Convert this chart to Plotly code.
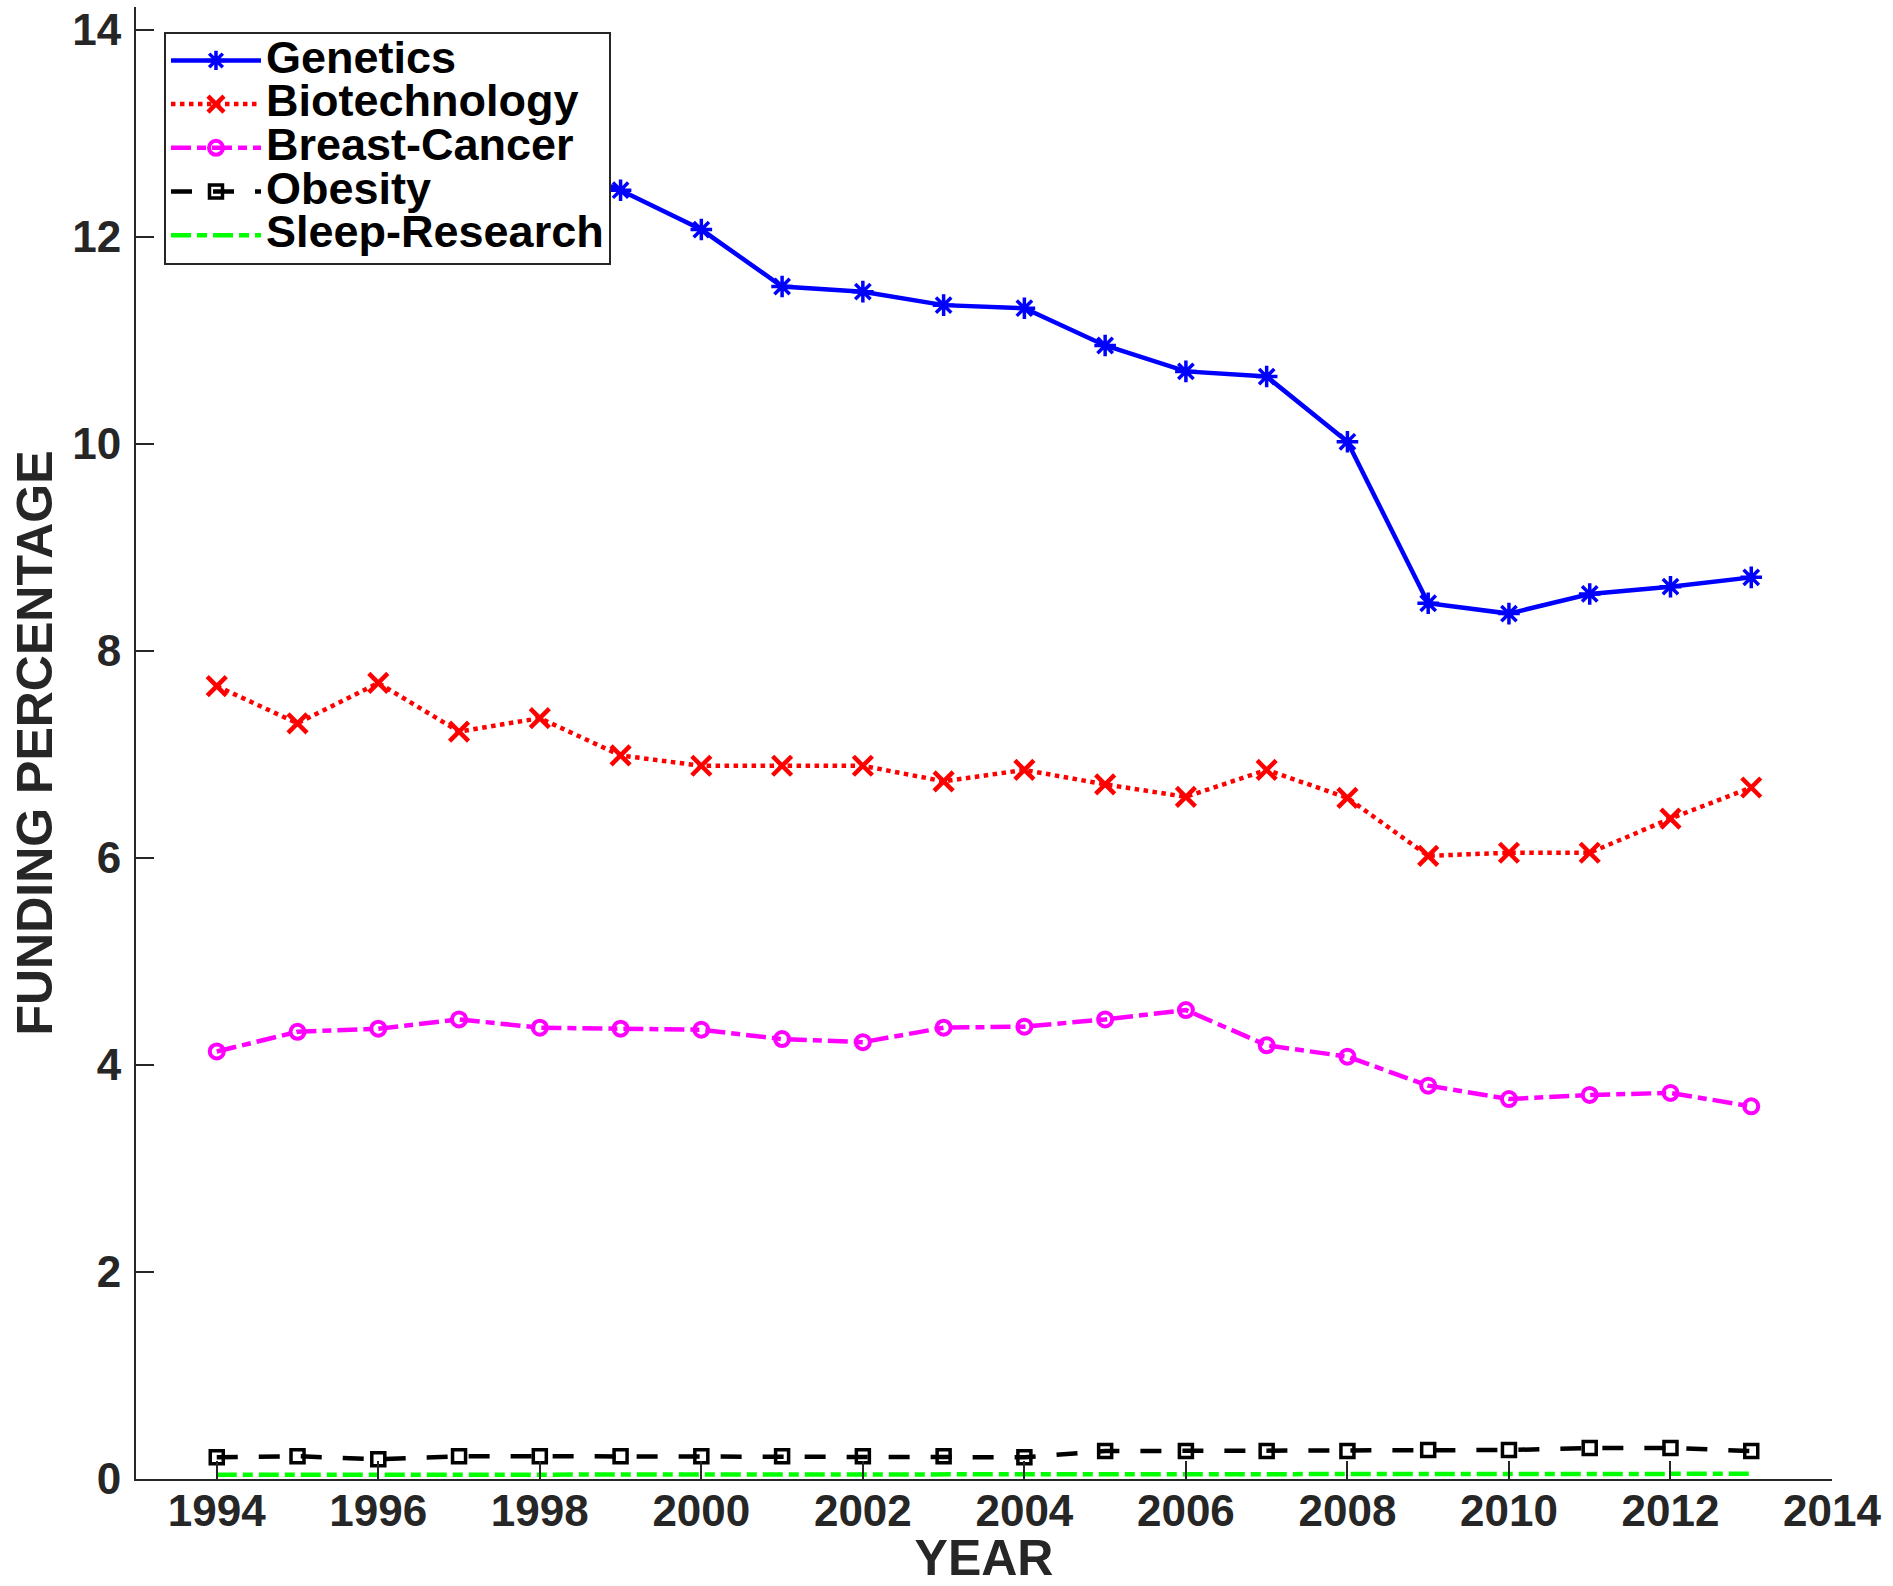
import plotly.graph_objects as go

# Share of funding per research topic, by year
years = [1994, 1995, 1996, 1997, 1998, 1999, 2000, 2001, 2002, 2003,
         2004, 2005, 2006, 2007, 2008, 2009, 2010, 2011, 2012, 2013]

genetics = [13.05, 13.25, 13.00, 12.85, 12.75, 12.45, 12.07, 11.52, 11.47, 11.34,
            11.31, 10.95, 10.70, 10.65, 10.02, 8.46, 8.36, 8.55, 8.62, 8.71]
biotechnology = [7.66, 7.30, 7.69, 7.22, 7.35, 6.99, 6.89, 6.89, 6.89, 6.74,
                 6.85, 6.71, 6.59, 6.85, 6.58, 6.02, 6.05, 6.05, 6.38, 6.68]
breast_cancer = [4.13, 4.32, 4.35, 4.44, 4.36, 4.35, 4.34, 4.25, 4.22, 4.36,
                 4.37, 4.44, 4.53, 4.19, 4.08, 3.80, 3.67, 3.71, 3.73, 3.60]
obesity = [0.21, 0.22, 0.19, 0.22, 0.22, 0.22, 0.22, 0.22, 0.22, 0.22,
           0.21, 0.27, 0.27, 0.27, 0.27, 0.28, 0.28, 0.30, 0.30, 0.27]
sleep_research = [0.04, 0.04, 0.04, 0.04, 0.04, 0.04, 0.04, 0.04, 0.04, 0.04,
                  0.04, 0.05, 0.05, 0.05, 0.05, 0.05, 0.05, 0.05, 0.05, 0.05]

x_ticks = [1994, 1996, 1998, 2000, 2002, 2004, 2006, 2008, 2010, 2012, 2014]
y_ticks = [0, 2, 4, 6, 8, 10, 12, 14]

FONT = "Liberation Sans, Arial, Helvetica, sans-serif"
AXIS_GREY = "#262626"


def label(name):
    return '<span style="font-size:45px">' + name + "</span>"


series = [
    ("Genetics", genetics, "#0000ff", "solid", "asterisk-open", 18, 3.5),
    ("Biotechnology", biotechnology, "#ff0000", "4.5px,4.5px", "x-thin-open", 19, 4.5),
    ("Breast-Cancer", breast_cancer, "#ff00ff", "20px,6px,9px,6px", "circle-open", 14, 4),
    ("Obesity", obesity, "#000000", "21px,21px", "square-open", 13, 3.5),
    ("Sleep-Research", sleep_research, "#00ff00", "20px,6px,10px,6px", None, 0, 0),
]

fig = go.Figure()
for name, values, color, dash, symbol, msize, mlw in series:
    if symbol:
        fig.add_trace(go.Scatter(
            x=years, y=values, name=label(name), mode="lines+markers",
            line=dict(color=color, width=4.5, dash=dash),
            marker=dict(symbol=symbol, size=msize, color=color,
                        line=dict(color=color, width=mlw)),
        ))
    else:
        fig.add_trace(go.Scatter(
            x=years, y=values, name=label(name), mode="lines",
            line=dict(color=color, width=4.5, dash=dash),
        ))

axis_common = dict(
    showline=True, linecolor=AXIS_GREY, linewidth=2, mirror=False,
    showgrid=False, zeroline=False, automargin=False,
    ticks="inside", ticklen=18, tickwidth=2, tickcolor=AXIS_GREY,
    tickfont=dict(family=FONT, size=44, color=AXIS_GREY, weight="bold"),
)

fig.update_layout(
    width=1893, height=1586,
    margin=dict(l=136, r=61, t=7, b=107),
    paper_bgcolor="white", plot_bgcolor="white",
    xaxis=dict(
        range=[1993, 2014], tickmode="array", tickvals=x_ticks,
        ticklabelstandoff=-8,
        title=dict(text="YEAR", standoff=16,
                   font=dict(family=FONT, size=50, color=AXIS_GREY, weight="bold")),
        **axis_common,
    ),
    yaxis=dict(
        range=[0, 14.22], tickmode="array", tickvals=y_ticks,
        ticklabelstandoff=4,
        title=dict(text="FUNDING PERCENTAGE", standoff=4,
                   font=dict(family=FONT, size=50, color=AXIS_GREY, weight="bold")),
        **axis_common,
    ),
    legend=dict(
        x=0.0165, y=0.9833, xanchor="left", yanchor="top",
        bgcolor="white", bordercolor=AXIS_GREY, borderwidth=2,
        font=dict(family=FONT, size=31.3, color="black", weight="bold"),
        itemwidth=90, traceorder="normal",
    ),
    showlegend=True,
)

fig.write_html("out.html")
